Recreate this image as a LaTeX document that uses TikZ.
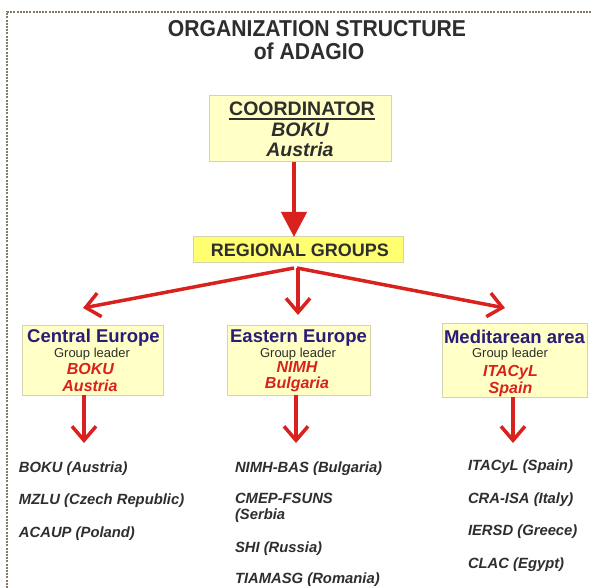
\documentclass[tikz,border=0pt]{standalone}
\usepackage{fontspec}
\setmainfont{Liberation Sans}
\usetikzlibrary{arrows.meta}
\definecolor{redA}{HTML}{D9221E}
\definecolor{boxfill}{HTML}{FFFFC6}
\definecolor{rgfill}{HTML}{FFFF70}
\definecolor{boxline}{HTML}{D4D4B0}
\definecolor{blueT}{HTML}{2A1C78}
\definecolor{greyT}{HTML}{2E2E2E}
\definecolor{dotc}{HTML}{857A68}
\newcommand{\fs}[1]{\fontsize{#1}{#1}\selectfont}
\begin{document}
\begin{tikzpicture}[x=1pt,y=-1pt,
  every node/.style={inner sep=0pt, outer sep=0pt},
  box/.style={draw=boxline, line width=1pt, fill=boxfill},
  title/.style={anchor=base, font=\bfseries\fs{23}, text=greyT},
  coordtxt/.style={anchor=base, font=\bfseries\fs{19.5}, text=greyT},
  regname/.style={anchor=base, font=\bfseries\fs{18.5}, text=blueT},
  leader/.style={anchor=base, font=\fs{13}, text=greyT},
  lead/.style={anchor=base, font=\bfseries\itshape\fs{16}, text=redA},
  member/.style={anchor=base west, font=\bfseries\itshape\fs{14.8}, text=greyT},
  bigarrow/.style={draw=redA, line width=4.5pt, -{Triangle[length=25pt,width=25pt]}},
  openarrow/.style={draw=redA, line width=3.5pt, -{Straight Barb[length=14pt,width=24pt]}}
]
\useasboundingbox (0,0) rectangle (592,588);
\fill[white] (0,0) rectangle (592,588);
\draw[dotc, line width=2pt, dash pattern=on 2pt off 1.2pt] (7,588) -- (7,12) -- (592,12);

% title
\node[title] (t1) at (317,37) {\scalebox{0.92}[1]{ORGANIZATION STRUCTURE}};
\node[title] (t2) at (309,60) {\scalebox{0.92}[1]{of ADAGIO}};

% coordinator
\node[box, minimum width=182pt, minimum height=66pt] (coord) at (300,129) {};
\node[coordtxt] (coordT) at (302,116) {COORDINATOR};
\draw[greyT, line width=1.4pt] ([yshift=-3.2pt]coordT.base west) -- ([yshift=-3.2pt]coordT.base east);
\node[coordtxt, font=\bfseries\itshape\fs{19.5}] (coordB) at (300,137) {BOKU};
\node[coordtxt, font=\bfseries\itshape\fs{19.5}] (coordA) at (300,157) {Austria};

% regional groups
\node[box, fill=rgfill, minimum width=210pt, minimum height=26pt] (rg) at (298,250) {};
\node[anchor=base, font=\bfseries\fs{18}, text=greyT] (rgT) at (300,256.5) {REGIONAL GROUPS};

\draw[bigarrow] (coord.south -| 294,0) -- (rg.north -| 294,0);

% region boxes
\node[box, minimum width=141pt, minimum height=70pt] (ce) at (92.5,360) {};
\node[box, minimum width=143pt, minimum height=70pt] (ee) at (298.5,360) {};
\node[box, minimum width=145pt, minimum height=74pt] (me) at (514.5,360) {};

\node[regname] (ceN) at (93.5,342.5) {Central Europe};
\node[leader] (ceL) at (92,357) {Group leader};
\node[lead] (ceB) at (90.5,374) {BOKU};
\node[lead] (ceA) at (90,391) {Austria};

\node[regname] (eeN) at (298.5,342.5) {Eastern Europe};
\node[leader] (eeL) at (298,357) {Group leader};
\node[lead] (eeB) at (297,372) {NIMH};
\node[lead] (eeA) at (297,388.5) {Bulgaria};

\node[regname] (meN) at (514.5,343) {Meditarean area};
\node[leader] (meL) at (510,357) {Group leader};
\node[lead] (meB) at (510.5,376) {ITACyL};
\node[lead] (meA) at (510.5,393) {Spain};

% fork arrows
\coordinate (forkL) at (294,268);
\coordinate (forkM) at (298,268);
\coordinate (forkR) at (297,268);
\coordinate (ceTip) at (83,308);
\coordinate (eeTip) at (298,315);
\coordinate (meTip) at (505,308);
\draw[openarrow] (forkL) -- (ceTip);
\draw[openarrow] (forkM) -- (eeTip);
\draw[openarrow] (forkR) -- (meTip);

% down arrows
\coordinate (ceDown) at (84,443);
\coordinate (eeDown) at (296,443);
\coordinate (meDown) at (513,443);
\draw[openarrow] (ce.south -| ceDown) -- (ceDown);
\draw[openarrow] (ee.south -| eeDown) -- (eeDown);
\draw[openarrow] (me.south -| meDown) -- (meDown);

% members
\node[member] (m1) at (19,472) {BOKU (Austria)};
\node[member] (m2) at (19,504) {MZLU (Czech Republic)};
\node[member] (m3) at (19,537) {ACAUP (Poland)};

\node[member] (m4) at (235,472) {NIMH-BAS (Bulgaria)};
\node[member] (m5) at (235,503) {CMEP-FSUNS};
\node[member] (m6) at (235,519.5) {(Serbia};
\node[member] (m7) at (235,552) {SHI (Russia)};
\node[member] (m8) at (235,583) {TIAMASG (Romania)};

\node[member] (m9) at (468,470) {ITACyL (Spain)};
\node[member] (m10) at (468,503) {CRA-ISA (Italy)};
\node[member] (m11) at (468,535) {IERSD (Greece)};
\node[member] (m12) at (468,568) {CLAC (Egypt)};
\end{tikzpicture}
\end{document}
